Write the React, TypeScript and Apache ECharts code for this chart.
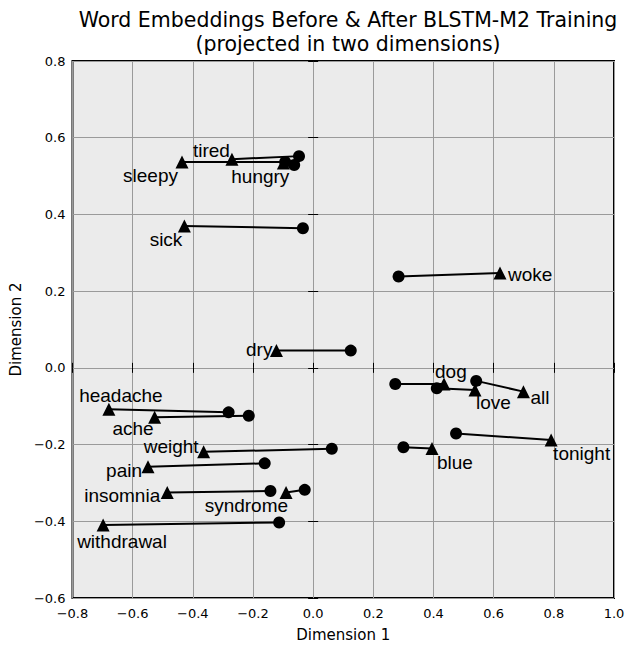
import React, { useEffect, useRef } from "react";
import * as echarts from "echarts";

const TITLE_LINES = ["Word Embeddings Before & After BLSTM-M2 Training", "(projected in two dimensions)"];
const X_NAME = "Dimension 1";
const Y_NAME = "Dimension 2";

const words = [
  "tired", "sleepy", "hungry", "sick", "woke", "dry", "dog", "love", "all",
  "tonight", "blue", "headache", "ache", "weight", "pain", "insomnia", "syndrome", "withdrawal",
];
const beforeX = [-0.047, -0.093, -0.063, -0.034, 0.284, 0.125, 0.273, 0.411, 0.542, 0.475, 0.300, -0.281, -0.214, 0.062, -0.161, -0.142, -0.028, -0.113];
const beforeY = [0.552, 0.537, 0.529, 0.364, 0.238, 0.045, -0.042, -0.053, -0.034, -0.171, -0.207, -0.116, -0.125, -0.211, -0.249, -0.321, -0.318, -0.403];
const afterX = [-0.270, -0.436, -0.099, -0.428, 0.621, -0.122, 0.435, 0.538, 0.699, 0.791, 0.395, -0.679, -0.527, -0.364, -0.549, -0.485, -0.090, -0.698];
const afterY = [0.544, 0.537, 0.534, 0.370, 0.247, 0.045, -0.042, -0.058, -0.062, -0.188, -0.210, -0.108, -0.129, -0.219, -0.258, -0.325, -0.325, -0.410];

// label placement (style only): [dx, dy, align] relative to the triangle
const labelPlace: [number, number, string][] = [
  [-2, -9, "right"], [-4, 14, "right"], [6, 13, "right"], [-2, 14, "right"],
  [8, 1, "left"], [-4, -1, "right"], [-9, -12, "left"], [1, 12, "left"],
  [7, 6, "left"], [2, 14, "left"], [5, 14, "left"], [12, -14, "center"],
  [-1, 11, "right"], [-5, -5, "right"], [-6, 4, "right"], [-7, 3, "right"],
  [2, 13, "right"], [-26, 16, "left"],
];

const fmt = (v: number) => {
  const s = v.toFixed(1);
  return s.replace("-", "\u2212");
};

export default function App() {
  const ref = useRef<HTMLDivElement>(null);
  useEffect(() => {
    if (!ref.current) return;
    const chart = echarts.init(ref.current, undefined, { renderer: "svg" });
    const tickFont = { fontFamily: "DejaVu Sans", fontSize: 13, color: "#000" };
    const TRI = 13;
    const lineSeries = words.map((w, i) => ({
      type: "line",
      name: w,
      data: [[beforeX[i], beforeY[i]], [afterX[i], afterY[i]]],
      showSymbol: false,
      symbol: "none",
      lineStyle: { color: "#000", width: 2, opacity: 1 },
      z: 3,
      silent: true,
    }));
    const option: any = {
      animation: false,
      title: {
        text: TITLE_LINES.join("\n"),
        left: 343,
        top: 3,
        textAlign: "center",
        textStyle: { fontFamily: "DejaVu Sans", fontSize: 20.5, fontWeight: "normal", lineHeight: 24, color: "#000" },
      },
      grid: {
        left: 72, top: 61, width: 542, height: 537,
        show: true, backgroundColor: "#ebebeb", borderColor: "#000", borderWidth: 2,
      },
      xAxis: [
        {
          type: "value", min: -0.8, max: 1.0, interval: 0.2,
          name: X_NAME, nameLocation: "middle", nameGap: 29,
          nameTextStyle: { fontFamily: "DejaVu Sans", fontSize: 15, color: "#000" },
          axisLine: { show: false },
          axisTick: { show: true, inside: true, length: 5, lineStyle: { color: "#000", width: 1 } },
          axisLabel: { ...tickFont, margin: 9, formatter: fmt },
          splitLine: { show: true, lineStyle: { color: "#9a9a9a", width: 1 } },
        },
        {
          type: "value", min: -0.8, max: 1.0, interval: 0.2, position: "top",
          axisLine: { show: false },
          axisTick: { show: true, inside: true, length: 5, lineStyle: { color: "#000", width: 1 } },
          axisLabel: { show: false },
          splitLine: { show: false },
        },
      ],
      yAxis: [
        {
          type: "value", min: -0.6, max: 0.8, interval: 0.2,
          name: Y_NAME, nameLocation: "middle", nameGap: 46, nameRotate: 90,
          nameTextStyle: { fontFamily: "DejaVu Sans", fontSize: 15, color: "#000" },
          axisLine: { show: false },
          axisTick: { show: true, inside: true, length: 5, lineStyle: { color: "#000", width: 1 } },
          axisLabel: { ...tickFont, margin: 7, formatter: fmt },
          splitLine: { show: true, lineStyle: { color: "#9a9a9a", width: 1 } },
        },
        {
          type: "value", min: -0.6, max: 0.8, interval: 0.2, position: "right",
          axisLine: { show: false },
          axisTick: { show: true, inside: true, length: 5, lineStyle: { color: "#000", width: 1 } },
          axisLabel: { show: false },
          splitLine: { show: false },
        },
      ],
      series: [
        ...lineSeries,
        {
          type: "scatter",
          name: "before",
          symbol: "circle",
          symbolSize: 12,
          itemStyle: { color: "#000", opacity: 1 },
          data: words.map((w, i) => [beforeX[i], beforeY[i]]),
          z: 4,
          silent: true,
        },
        {
          type: "scatter",
          name: "after",
          symbol: "triangle",
          symbolSize: TRI,
          itemStyle: { color: "#000", opacity: 1 },
          z: 5,
          silent: true,
          data: words.map((w, i) => ({
            value: [afterX[i], afterY[i]],
            label: {
              show: true,
              formatter: w,
              position: [TRI / 2 + labelPlace[i][0], TRI / 2 + labelPlace[i][1]],
              align: labelPlace[i][2],
              verticalAlign: "middle",
              fontFamily: "Liberation Sans",
              fontSize: 19,
              color: "#000",
            },
          })),
        },
      ],
    };
    chart.setOption(option);
    return () => chart.dispose();
  }, []);
  return (
    <div
      ref={ref}
      style={{ position: "absolute", left: 0, top: 0, width: 635, height: 650, background: "#fff" }}
    />
  );
}
